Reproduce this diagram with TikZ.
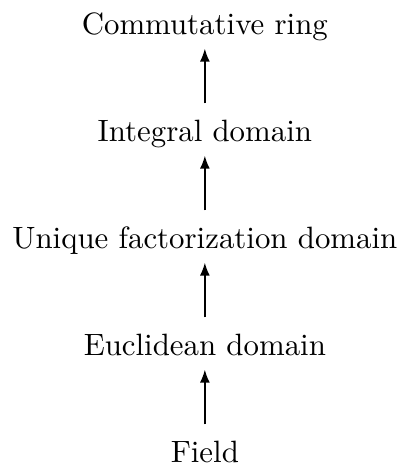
\documentclass[tikz,border=0pt]{standalone}
\usetikzlibrary{arrows.meta}
\begin{document}
\begin{tikzpicture}[x=1pt,y=1pt,
  lbl/.style={anchor=base,inner sep=0pt,text height=6.83pt,text depth=1.94pt},
  up/.style={-{Latex[length=4.2pt,width=3.2pt]},line width=0.5pt,shorten <=5.17pt,shorten >=2.6pt}]
\useasboundingbox (0,0) rectangle (129.3,-150.4);
\node[lbl] (cr) at (66.4,-11.02) {Commutative ring};
\node[lbl] (id) at (66.4,-45.71) {Integral domain};
\node[lbl] (ufd) at (66.4,-80.39) {Unique factorization domain};
\node[lbl] (ed) at (66.4,-115.07) {Euclidean domain};
\node[lbl] (f) at (66.4,-149.76) {Field};
\draw[up] (id.north) -- (cr.south);
\draw[up] (ufd.north) -- (id.south);
\draw[up] (ed.north) -- (ufd.south);
\draw[up] (f.north) -- (ed.south);
\end{tikzpicture}
\end{document}
